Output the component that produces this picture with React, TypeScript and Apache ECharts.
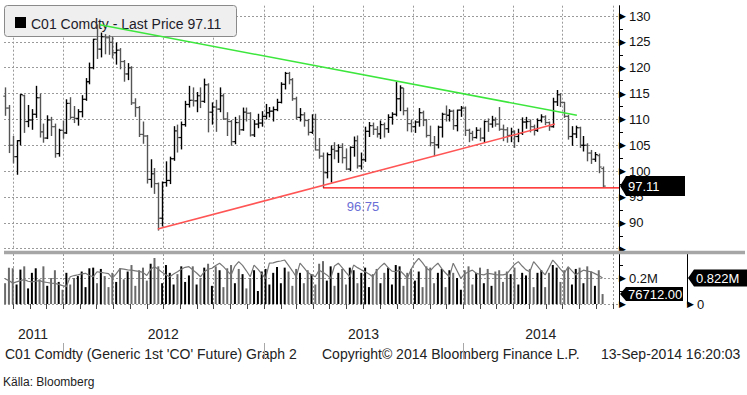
import React, { useEffect, useRef } from 'react';
import * as echarts from 'echarts';

// ---------- data ----------
const FIRST_WEEK = '2011-09-16';
const X_MIN = '2011-09-14';
const X_MAX = '2014-10-12';

const QUARTER_LINES = ['2011-10-01', '2012-01-01', '2012-04-01', '2012-07-01', '2012-10-01', '2013-01-01', '2013-04-01', '2013-07-01', '2013-10-01', '2014-01-01', '2014-04-01', '2014-07-01', '2014-10-01'];
const YEAR_BREAKS = ['2012-01-01', '2013-01-01', '2014-01-01'];
const YEAR_LABEL_AT = ['2011-11-06', '2012-07-01', '2013-07-02', '2014-05-22'];

const PRICE_MIN = 85;
const PRICE_MAX = 132;
const PRICE_STEP = 5;

// weekly [open, high, low, close]
const OHLC: [number, number, number, number][] = [
  [114.5, 116.2, 110.7, 112.2], [112.2, 112.8, 103.5, 105.0], [105.0, 106.8, 101.5, 102.8], [102.8, 106.0, 99.3, 105.9],
  [105.9, 114.9, 105.0, 114.8], [114.6, 114.8, 107.4, 109.6], [109.6, 112.8, 108.5, 109.9], [109.9, 112.0, 108.0, 111.0],
  [111.0, 116.5, 110.3, 114.2], [114.2, 115.0, 106.5, 107.6], [107.6, 109.2, 105.5, 106.4], [106.4, 110.8, 106.2, 109.9],
  [109.9, 110.5, 106.8, 108.6], [108.6, 109.2, 102.6, 103.4], [103.4, 108.2, 102.8, 107.9], [107.9, 109.8, 106.3, 107.4],
  [107.4, 113.9, 107.2, 113.1], [113.1, 114.3, 110.0, 110.4], [110.4, 112.6, 109.3, 110.2], [110.2, 112.0, 108.8, 111.5],
  [111.5, 114.7, 110.4, 113.9], [113.9, 118.0, 113.6, 117.3], [117.3, 121.0, 116.8, 120.0], [120.0, 125.6, 119.7, 125.5],
  [125.5, 128.4, 121.7, 123.6], [123.6, 126.8, 122.0, 126.0], [126.0, 126.5, 122.6, 125.8], [125.8, 126.3, 122.5, 124.9],
  [124.9, 126.0, 121.8, 122.9], [122.9, 124.9, 120.6, 123.4], [123.4, 123.8, 119.7, 121.2], [121.2, 121.5, 117.3, 118.8],
  [118.8, 120.9, 117.6, 120.0], [120.0, 120.3, 112.8, 113.2], [113.2, 114.1, 110.5, 112.3], [112.3, 112.6, 106.6, 107.1],
  [107.1, 109.6, 105.3, 106.8], [106.8, 107.0, 97.6, 98.4], [98.4, 102.3, 96.8, 99.5], [99.5, 100.6, 95.6, 97.6],
  [97.6, 97.8, 88.5, 90.9], [90.9, 98.0, 89.3, 97.8], [97.8, 101.9, 97.0, 98.2], [98.2, 102.8, 97.5, 102.4],
  [102.4, 108.7, 102.0, 107.8], [107.8, 109.0, 103.6, 106.5], [106.5, 109.6, 104.2, 109.0], [109.0, 113.6, 108.6, 112.9],
  [112.9, 116.5, 112.3, 113.7], [113.7, 116.2, 112.5, 113.6], [113.6, 115.3, 111.4, 114.6], [114.6, 116.2, 112.2, 113.5],
  [113.5, 117.9, 113.2, 116.7], [116.7, 117.0, 107.5, 111.4], [111.4, 113.3, 109.0, 112.4], [112.4, 113.8, 107.6, 112.0],
  [112.0, 116.2, 111.4, 114.6], [114.6, 115.0, 109.9, 110.1], [110.1, 111.4, 106.8, 109.6], [109.6, 109.9, 104.9, 105.7],
  [105.7, 110.5, 105.2, 109.4], [109.4, 110.8, 107.0, 108.0], [108.0, 112.3, 107.8, 111.4], [111.4, 112.3, 109.6, 111.2],
  [111.2, 111.4, 106.7, 107.0], [107.0, 109.9, 106.6, 109.1], [109.1, 111.1, 108.3, 109.3], [109.3, 111.6, 108.6, 110.6],
  [110.6, 113.0, 110.0, 111.3], [111.3, 112.4, 110.4, 111.6], [111.6, 112.5, 109.6, 111.9], [111.9, 114.0, 111.6, 113.3],
  [113.3, 117.2, 113.1, 116.8], [116.8, 119.2, 115.8, 118.9], [118.9, 119.2, 116.8, 117.7], [117.7, 118.0, 113.6, 114.0],
  [114.0, 114.4, 110.0, 110.4], [110.4, 112.2, 109.6, 110.9], [110.9, 111.4, 108.6, 109.8], [109.8, 110.1, 106.9, 107.5],
  [107.5, 111.0, 107.2, 110.0], [110.0, 111.1, 104.0, 104.1], [104.1, 106.4, 102.4, 102.9], [102.9, 103.6, 96.75, 99.7],
  [99.7, 103.6, 98.6, 103.2], [103.2, 105.0, 97.8, 104.2], [104.2, 105.6, 102.3, 103.9], [103.9, 105.2, 101.6, 104.6],
  [104.6, 105.4, 101.5, 102.6], [102.6, 104.4, 100.2, 100.4], [100.4, 104.8, 100.0, 104.6], [104.6, 106.7, 102.8, 105.9],
  [105.9, 106.9, 100.5, 101.0], [101.0, 103.6, 100.3, 102.2], [102.2, 108.6, 101.8, 107.7], [107.7, 109.5, 106.6, 108.8],
  [108.8, 109.4, 107.0, 108.1], [108.1, 108.7, 106.5, 107.2], [107.2, 109.8, 106.2, 109.0], [109.0, 109.4, 106.5, 108.2],
  [108.2, 111.0, 107.4, 110.4], [110.4, 111.4, 109.0, 111.0], [111.0, 117.3, 110.6, 114.0], [114.0, 116.6, 111.6, 116.1],
  [116.1, 116.1, 110.8, 111.7], [111.7, 112.3, 107.7, 109.2], [109.2, 110.0, 107.5, 108.6], [108.6, 109.8, 107.4, 109.5],
  [109.5, 112.2, 108.6, 111.3], [111.3, 111.7, 108.7, 109.9], [109.9, 110.1, 106.5, 106.9], [106.9, 108.8, 104.8, 105.5],
  [105.5, 106.8, 102.9, 105.1], [105.1, 108.8, 104.4, 108.5], [108.5, 111.3, 106.5, 111.0], [111.0, 112.7, 109.6, 110.8],
  [110.8, 112.0, 109.6, 111.6], [111.6, 111.9, 108.0, 108.8], [108.8, 111.9, 107.7, 111.8], [111.8, 112.6, 110.5, 112.2],
  [112.2, 112.5, 106.8, 107.9], [107.9, 108.2, 105.6, 107.3], [107.3, 107.8, 105.9, 106.5], [106.5, 108.5, 106.3, 107.9],
  [107.9, 108.4, 105.8, 106.4], [106.4, 109.8, 105.5, 109.6], [109.6, 110.2, 107.6, 109.1], [109.1, 110.7, 108.4, 109.9],
  [109.9, 110.4, 108.6, 109.1], [109.1, 112.4, 107.8, 108.1], [108.1, 109.0, 105.8, 108.0], [108.0, 108.5, 105.5, 106.9],
  [106.9, 108.4, 105.6, 107.6], [107.6, 107.9, 104.5, 106.7], [106.7, 108.2, 105.6, 107.3], [107.3, 110.4, 107.0, 109.5],
  [109.5, 110.5, 108.2, 109.6], [109.6, 110.0, 107.5, 108.6], [108.6, 109.0, 106.9, 107.9], [107.9, 110.2, 107.6, 109.8],
  [109.8, 111.0, 109.4, 110.5], [110.5, 110.8, 108.9, 109.4], [109.4, 109.6, 107.8, 108.6], [108.6, 114.2, 108.4, 113.4],
  [113.4, 115.7, 112.6, 114.8], [114.8, 115.1, 112.4, 113.3], [113.3, 113.4, 110.3, 110.6], [110.6, 110.9, 106.1, 106.7],
  [106.7, 108.7, 104.9, 107.2], [107.2, 108.8, 106.4, 108.4], [108.4, 108.6, 104.5, 105.0], [105.0, 106.8, 103.8, 105.0],
  [105.0, 105.4, 101.9, 103.5], [103.5, 104.1, 101.4, 102.3], [102.3, 103.7, 101.8, 103.2], [103.0, 103.4, 99.6, 100.8],
  [100.5, 100.9, 96.9, 97.11],
];

// weekly volume, thousands of contracts
const VOLUME_K = [
  160, 280, 275, 150, 265, 290, 120, 240, 275, 190,
  290, 140, 200, 260, 170, 110, 240, 150, 200, 215,
  250, 130, 275, 280, 160, 270, 215, 130, 240, 170,
  275, 190, 250, 300, 140, 260, 280, 180, 310, 354,
  290, 160, 300, 240, 150, 230, 290, 170, 220, 290,
  150, 200, 280, 310, 140, 290, 260, 130, 275, 300,
  160, 270, 230, 120, 200, 260, 100, 250, 270, 150,
  240, 285, 160, 280, 250, 140, 270, 240, 160, 260,
  230, 150, 310, 330, 180, 290, 140, 240, 270, 150,
  280, 260, 160, 240, 280, 130, 230, 270, 160, 240,
  280, 150, 300, 290, 140, 240, 270, 180, 250, 130,
  290, 280, 160, 240, 270, 130, 260, 240, 200, 110,
  260, 290, 150, 240, 280, 160, 270, 140, 250, 260,
  170, 250, 230, 280, 150, 240, 220, 270, 130, 240,
  260, 130, 240, 300, 280, 170, 260, 280, 150, 270,
  280, 160, 290, 250, 140, 260, 76.712,
];

// weekly open interest, millions
const OPEN_INT_M = [
  0.80, 0.74, 0.66, 0.70, 0.74, 0.77, 0.72, 0.70, 0.72, 0.74,
  0.70, 0.68, 0.66, 0.65, 0.62, 0.58, 0.55, 0.86, 0.90, 0.92,
  0.95, 0.97, 0.90, 0.86, 1.02, 1.00, 0.98, 0.96, 0.82, 0.95,
  1.12, 1.10, 1.08, 1.07, 1.05, 1.03, 1.00, 0.90, 1.10, 1.18,
  1.10, 1.00, 0.92, 0.86, 0.95, 1.02, 1.10, 1.16, 1.18, 1.08,
  0.98, 0.86, 1.02, 1.10, 1.13, 1.22, 1.29, 1.18, 1.05, 0.92,
  1.20, 1.34, 1.22, 1.05, 0.86, 1.23, 1.10, 0.95, 0.81, 1.29,
  1.30, 1.34, 1.36, 1.39, 1.22, 1.05, 0.86, 1.29, 1.15, 1.00,
  0.92, 0.86, 1.07, 1.00, 0.92, 0.81, 1.20, 1.29, 1.15, 1.00,
  0.86, 1.23, 1.15, 1.08, 1.02, 0.95, 0.86, 1.05, 1.18, 1.29,
  1.15, 1.04, 1.02, 1.07, 0.95, 0.81, 1.10, 1.30, 1.44, 1.30,
  1.13, 1.05, 1.18, 1.29, 1.12, 0.98, 0.86, 1.29, 1.05, 0.81,
  0.95, 1.02, 1.07, 0.97, 0.94, 0.92, 0.97, 0.95, 0.93, 0.92,
  0.92, 0.95, 1.10, 1.25, 1.34, 1.20, 1.08, 1.02, 1.34, 1.20,
  1.05, 0.92, 1.15, 1.39, 1.25, 1.10, 0.97, 1.18, 1.05, 0.92,
  1.00, 1.07, 1.04, 1.02, 0.96, 0.90, 0.822,
];

const GREEN_TREND: [string, number][] = [['2012-03-07', 128.3], ['2014-07-27', 110.8]];
const RED_TREND: [string, number][] = [['2012-06-21', 88.8], ['2014-06-17', 109.1]];
const SUPPORT: [string, number][] = [['2013-04-19', 96.75], ['2014-10-12', 96.75]];
const SUPPORT_LABEL = '96.75';

const LAST_PRICE = 97.11;
const LAST_VOLUME = 76712;
const LAST_OI = 0.822;
const VOL_MAX = 385000;
const OI_MAX = 1.5808;

const LEGEND_TEXT = 'C01 Comdty - Last Price 97.11';
const FOOTER_LEFT = "C01 Comdty (Generic 1st 'CO' Future) Graph 2";
const FOOTER_MID = 'Copyright\u00A9 2014 Bloomberg Finance L.P.';
const FOOTER_RIGHT = '13-Sep-2014 16:20:03';
const SOURCE = 'K\u00E4lla: Bloomberg';

// ---------- helpers ----------
const DAY = 86400000;
const d = (s: string) => Date.parse(s + 'T00:00:00Z');
const weekDates = OHLC.map((_, i) => d(FIRST_WEEK) + i * 7 * DAY);
const monthTicks: number[] = [];
for (let y = 2011; y <= 2014; y++) {
  for (let m = 0; m < 12; m++) {
    const t = Date.UTC(y, m, 1);
    if (t >= d(X_MIN) && t <= d(X_MAX)) monthTicks.push(t);
  }
}

const FONT = 'Liberation Sans';
const TRI = { fontSize: 9, fontFamily: 'DejaVu Sans', color: '#000', padding: [0, 3, 0, 0] };
const LBL = { fontSize: 13, fontFamily: FONT, color: '#111' };
const GRID_LINE = { color: '#9a9a9a', type: [2, 2] as any, width: 1 };

function badge(tipX: number, yc: number, w: number, h: number, text: string, fs: number) {
  return [
    {
      type: 'polygon',
      z: 10,
      shape: { points: [[tipX, yc], [tipX + 6, yc - h / 2], [tipX + w, yc - h / 2], [tipX + w, yc + h / 2], [tipX + 6, yc + h / 2]] },
      style: { fill: '#000' },
    },
    {
      type: 'text',
      z: 11,
      x: tipX + 8,
      y: yc,
      style: { text, fill: '#fff', fontSize: fs, fontFamily: FONT, verticalAlign: 'middle', align: 'left' },
    },
  ];
}

export default function App() {
  const ref = useRef<HTMLDivElement>(null);

  useEffect(() => {
    if (!ref.current) return;
    const chart = echarts.init(ref.current, null, { renderer: 'svg' });
    const xMin = d(X_MIN);
    const xMax = d(X_MAX);
    const quarters = QUARTER_LINES.map(d);

    const ohlcData = OHLC.map((r, i) => [weekDates[i], r[0], r[1], r[2], r[3]]);
    const volData = VOLUME_K.map((v, i) => ({
      value: [weekDates[i], v * 1000],
      itemStyle: { color: OHLC[i][3] >= OHLC[i][0] ? '#000' : '#6a6a6a' },
    }));
    const oiData = OPEN_INT_M.map((v, i) => [weekDates[i], v]);

    const option: any = {
      animation: false,
      backgroundColor: '#fff',
      grid: [
        { left: 4, right: 128, top: 5.7, height: 243 },
        { left: 4, right: 128, top: 254, height: 50 },
        { left: 4, right: 128, top: 327, height: 16 },
      ],
      xAxis: [
        {
          type: 'value', gridIndex: 0, min: xMin, max: xMax,
          axisLine: { show: false }, axisTick: { show: false, customValues: quarters },
          axisLabel: { show: false }, splitLine: { show: true, lineStyle: GRID_LINE },
        },
        {
          type: 'value', gridIndex: 1, position: 'bottom', min: xMin, max: xMax,
          axisLine: { show: false },
          axisTick: { show: true, customValues: monthTicks, length: 5, lineStyle: { color: '#444' } },
          axisLabel: { show: false }, splitLine: { show: false },
        },
        {
          type: 'value', gridIndex: 1, position: 'top', min: xMin, max: xMax,
          axisLine: { show: false }, axisTick: { show: false, customValues: quarters },
          axisLabel: { show: false }, splitLine: { show: true, lineStyle: GRID_LINE },
        },
        {
          type: 'value', gridIndex: 2, position: 'top', min: xMin, max: xMax,
          axisLine: { show: false },
          axisTick: { show: true, inside: true, length: 16, customValues: YEAR_BREAKS.map(d), lineStyle: { color: '#a8a8a8' } },
          axisLabel: {
            show: true, inside: true, margin: 0, customValues: YEAR_LABEL_AT.map(d),
            formatter: (v: number) => String(new Date(v).getUTCFullYear()),
            fontSize: 14, fontFamily: FONT, color: '#222',
          },
          splitLine: { show: false },
        },
      ],
      yAxis: [
        {
          type: 'value', gridIndex: 0, position: 'right', min: PRICE_MIN, max: PRICE_MAX, interval: PRICE_STEP,
          axisLine: { show: true, lineStyle: { color: '#000', width: 1 } },
          axisTick: { show: false },
          minorTick: { show: true, splitNumber: 2, length: 4, lineStyle: { color: '#000' } },
          axisLabel: {
            margin: 0,
            formatter: (v: number) => {
              if (Math.abs(v % PRICE_STEP) > 1e-6) return '';
              if (v === PRICE_MIN) return '{t|\u25B6}';
              return '{t|\u25B6}{v|' + v + '}';
            },
            rich: { t: TRI, v: LBL },
          },
          splitLine: { show: true, showMaxLine: false, lineStyle: GRID_LINE },
        },
        {
          type: 'value', gridIndex: 1, position: 'right', min: 0, max: VOL_MAX, interval: 200000,
          axisLine: { show: true, lineStyle: { color: '#000', width: 1 } },
          axisTick: { show: false },
          minorTick: { show: true, splitNumber: 2, length: 4, lineStyle: { color: '#000' } },
          axisLabel: {
            margin: 0,
            formatter: (v: number) => (v === 200000 ? '{t|\u25B6}{v|0.2M}' : v === 0 ? '{t|\u25B6}' : ''),
            rich: { t: TRI, v: LBL },
          },
          splitLine: { show: true, showMaxLine: false, lineStyle: GRID_LINE },
        },
        {
          type: 'value', gridIndex: 1, position: 'right', offset: 68, min: 0, max: OI_MAX, interval: LAST_OI,
          axisLine: { show: true, lineStyle: { color: '#000', width: 1 } },
          axisTick: { show: false },
          axisLabel: {
            margin: 0,
            formatter: (v: number) => (v === 0 ? '{t|\u25B6}{v|0}' : ''),
            rich: { t: TRI, v: LBL },
          },
          splitLine: { show: false },
        },
        { type: 'value', gridIndex: 2, show: false },
      ],
      series: [
        {
          type: 'custom',
          xAxisIndex: 0, yAxisIndex: 0,
          z: 3,
          encode: { x: 0, y: [1, 2, 3, 4] },
          data: ohlcData,
          renderItem: (_p: any, api: any) => {
            const t = api.value(0);
            const o = api.value(1), h = api.value(2), l = api.value(3), c = api.value(4);
            const pH = api.coord([t, h]);
            const pL = api.coord([t, l]);
            const pO = api.coord([t, o]);
            const pC = api.coord([t, c]);
            const color = c >= o ? '#000' : '#555';
            const x = Math.round(pH[0]) + 0.5;
            return {
              type: 'group',
              children: [
                { type: 'line', shape: { x1: x, y1: pH[1], x2: x, y2: pL[1] }, style: { stroke: color, lineWidth: 1.4 } },
                { type: 'line', shape: { x1: x - 2.2, y1: pO[1], x2: x, y2: pO[1] }, style: { stroke: color, lineWidth: 1.2 } },
                { type: 'line', shape: { x1: x, y1: pC[1], x2: x + 2.2, y2: pC[1] }, style: { stroke: color, lineWidth: 1.2 } },
              ],
            };
          },
        },
        {
          type: 'line', xAxisIndex: 0, yAxisIndex: 0, z: 4, symbol: 'none',
          data: GREEN_TREND.map(([t, v]) => [d(t), v]),
          lineStyle: { color: '#3de63d', width: 1.5 },
        },
        {
          type: 'line', xAxisIndex: 0, yAxisIndex: 0, z: 4, symbol: 'none',
          data: RED_TREND.map(([t, v]) => [d(t), v]),
          lineStyle: { color: '#ff5555', width: 1.6 },
        },
        {
          type: 'line', xAxisIndex: 0, yAxisIndex: 0, z: 4, symbol: 'none',
          data: SUPPORT.map(([t, v]) => [d(t), v]),
          lineStyle: { color: '#ff0000', width: 1.2 },
        },
        {
          type: 'bar', xAxisIndex: 1, yAxisIndex: 1, barWidth: 2, z: 3,
          data: volData,
        },
        {
          type: 'line', xAxisIndex: 1, yAxisIndex: 2, z: 4, symbol: 'none',
          data: oiData,
          lineStyle: { color: '#777', width: 1.2 },
        },
      ],
    };
    chart.setOption(option);

    const axisX = chart.convertToPixel({ xAxisIndex: 0 }, xMax) as number;
    const priceY = chart.convertToPixel({ yAxisIndex: 0 }, LAST_PRICE) as number;
    const volY = chart.convertToPixel({ yAxisIndex: 1 }, LAST_VOLUME) as number;
    const oiY = chart.convertToPixel({ yAxisIndex: 2 }, LAST_OI) as number;
    const sup = chart.convertToPixel({ xAxisIndex: 0, yAxisIndex: 0 }, [d(SUPPORT[0][0]), SUPPORT[0][1]]) as number[];

    const graphic: any[] = [
      {
        type: 'rect', z: 1,
        shape: { x: 4.5, y: 5.5, width: 232, height: 31, r: 3 },
        style: { fill: '#efefef', stroke: '#8a8a8a', lineWidth: 1 },
      },
      { type: 'rect', z: 1, shape: { x: 15, y: 17, width: 11, height: 11 }, style: { fill: '#000' } },
      {
        type: 'text', z: 1, x: 31, y: 23.5,
        style: { text: LEGEND_TEXT, fill: '#1c1c2a', fontSize: 14, fontFamily: FONT, verticalAlign: 'middle' },
      },
      { type: 'rect', z: 5, shape: { x: 4, y: 250.8, width: 741, height: 3.4 }, style: { fill: '#a6a6a6' } },
      ...badge(axisX + 1, priceY, 65, 20, LAST_PRICE.toFixed(2), 13),
      ...badge(axisX + 1, volY, 63, 14, LAST_VOLUME.toFixed(2), 13),
      ...badge(axisX + 69, oiY, 59, 17, LAST_OI + 'M', 13),
      {
        type: 'text', z: 6, x: sup[0] + 40, y: sup[1] + 19,
        style: { text: SUPPORT_LABEL, fill: '#6a6ed6', fontSize: 13, fontFamily: FONT, align: 'center', verticalAlign: 'middle' },
      },
      { type: 'text', x: 5, y: 354, style: { text: FOOTER_LEFT, fill: '#222', fontSize: 14, fontFamily: FONT, verticalAlign: 'middle' } },
      { type: 'text', x: 322, y: 354, style: { text: FOOTER_MID, fill: '#222', fontSize: 14, fontFamily: FONT, verticalAlign: 'middle' } },
      { type: 'text', x: 601, y: 354, style: { text: FOOTER_RIGHT, fill: '#222', fontSize: 14, fontFamily: FONT, verticalAlign: 'middle' } },
      { type: 'text', x: 3, y: 382, style: { text: SOURCE, fill: '#222', fontSize: 12, fontFamily: FONT, verticalAlign: 'middle' } },
    ];
    chart.setOption({ graphic });

    return () => chart.dispose();
  }, []);

  return (
    <div
      ref={ref}
      style={{ position: 'absolute', left: 0, top: 0, width: 747, height: 395, background: '#fff' }}
    />
  );
}
